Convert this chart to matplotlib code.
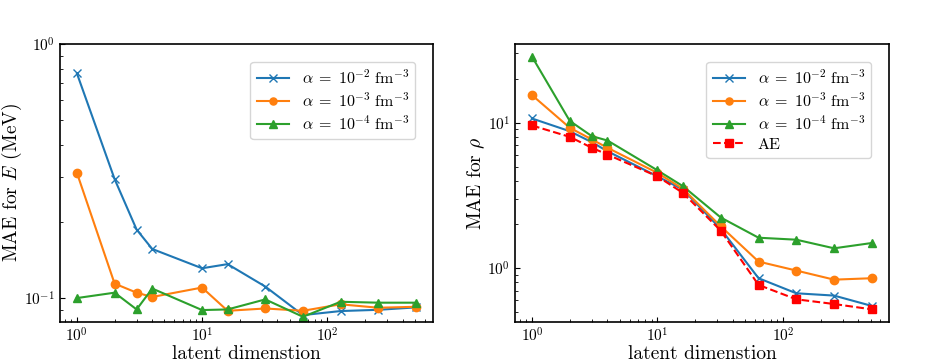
import matplotlib
matplotlib.use("Agg")
import matplotlib.pyplot as plt

plt.rcParams["font.family"] = "serif"
plt.rcParams["font.serif"] = ["cmr10", "DejaVu Serif"]
plt.rcParams["mathtext.fontset"] = "cm"
plt.rcParams["axes.unicode_minus"] = False
plt.rcParams["axes.formatter.use_mathtext"] = True

latent_dim = [1, 2, 3, 4, 10, 16, 32, 64, 128, 256, 512]

# MAE for E (MeV)
mae_e_a2 = [0.766, 0.294, 0.186, 0.156, 0.131, 0.136, 0.111, 0.0857, 0.0889, 0.0899, 0.0919]
mae_e_a3 = [0.311, 0.114, 0.105, 0.101, 0.110, 0.0891, 0.0910, 0.0891, 0.0945, 0.0916, 0.0924]
mae_e_a4 = [0.100, 0.105, 0.0902, 0.109, 0.0897, 0.0902, 0.0988, 0.0844, 0.0967, 0.0959, 0.0959]

# MAE for rho
mae_rho_a2 = [10.7, 8.75, 7.35, 6.37, 4.28, 3.47, 1.86, 0.853, 0.672, 0.648, 0.550]
mae_rho_a3 = [15.5, 9.24, 7.68, 6.73, 4.52, 3.51, 1.94, 1.11, 0.963, 0.834, 0.853]
mae_rho_a4 = [28.5, 10.3, 8.09, 7.55, 4.71, 3.66, 2.23, 1.62, 1.57, 1.37, 1.49]
mae_rho_ae = [9.58, 8.00, 6.73, 6.04, 4.28, 3.29, 1.81, 0.767, 0.611, 0.567, 0.521]

labels = [r"$\alpha\;=\;10^{-2}\ \mathrm{fm}^{-3}$",
          r"$\alpha\;=\;10^{-3}\ \mathrm{fm}^{-3}$",
          r"$\alpha\;=\;10^{-4}\ \mathrm{fm}^{-3}$"]

fig = plt.figure(figsize=(9.37, 3.62), dpi=100)
ax1 = fig.add_axes([0.064, 0.1105, 0.398, 0.768])
ax2 = fig.add_axes([0.5496, 0.1105, 0.399, 0.768])

ax1.plot(latent_dim, mae_e_a2, marker="x", color="tab:blue", label=labels[0])
ax1.plot(latent_dim, mae_e_a3, marker="o", color="tab:orange", label=labels[1])
ax1.plot(latent_dim, mae_e_a4, marker="^", color="tab:green", label=labels[2])
ax1.set_xscale("log")
ax1.set_yscale("log")
ax1.set_ylim(0.0805, 1.0)
ax1.set_xlabel("latent dimenstion", fontsize=14, labelpad=0)
ax1.set_ylabel(r"MAE for $E$ (MeV)", fontsize=14, labelpad=0)
ax1.legend(fontsize=11.5, loc="upper right", borderaxespad=1.1, markerscale=0.85,
           labelspacing=0.3)

ax2.plot(latent_dim, mae_rho_a2, marker="x", color="tab:blue", label=labels[0])
ax2.plot(latent_dim, mae_rho_a3, marker="o", color="tab:orange", label=labels[1])
ax2.plot(latent_dim, mae_rho_a4, marker="^", color="tab:green", label=labels[2])
ax2.plot(latent_dim, mae_rho_ae, marker="s", linestyle="--", color="red", label="AE")
ax2.set_xscale("log")
ax2.set_yscale("log")
ax2.set_xlabel("latent dimenstion", fontsize=14, labelpad=0)
ax2.set_ylabel(r"MAE for $\rho$", fontsize=14, labelpad=0)
ax2.legend(fontsize=11.5, loc="upper right", borderaxespad=1.1, markerscale=0.85,
           labelspacing=0.3)

for ax in (ax1, ax2):
    ax.tick_params(which="both", direction="in", labelsize=11)
    for s in ax.spines.values():
        s.set_linewidth(1.2)

fig.savefig("out.png", dpi=100)
